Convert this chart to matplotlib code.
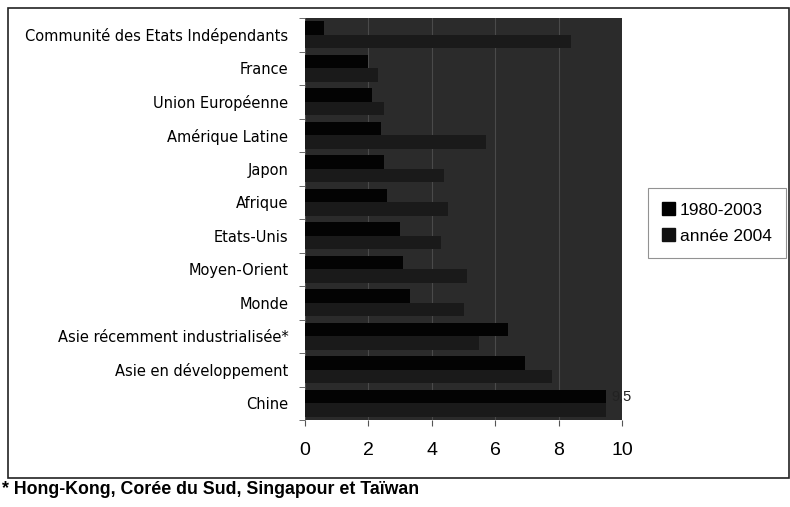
import matplotlib
matplotlib.use("Agg")
import matplotlib.pyplot as plt
import matplotlib.patches as mpatches
import numpy as np

plt.rcParams['font.family'] = ['Liberation Sans', 'DejaVu Sans']

categories = ["Communité des Etats Indépendants", "France", "Union Européenne",
              "Amérique Latine", "Japon", "Afrique", "Etats-Unis", "Moyen-Orient",
              "Monde", "Asie récemment industrialisée*", "Asie en développement", "Chine"]
avg_1980_2003 = [0.6, 2.0, 2.1, 2.4, 2.5, 2.6, 3.0, 3.1, 3.3, 6.4, 6.95, 9.5]
year_2004 = [8.4, 2.3, 2.5, 5.7, 4.4, 4.5, 4.3, 5.1, 5.0, 5.5, 7.8, 9.5]
series_names = ["1980-2003", "année 2004"]
xticks = [0, 2, 4, 6, 8, 10]

fig = plt.figure(figsize=(7.9, 5.07), dpi=100)
ax = fig.add_axes([305/790, 1-420/507, (622-305)/790, (420-18)/507])

n = len(categories)
y = np.arange(n)
h = 0.4
ax.set_facecolor('#2b2b2b')
ax.barh(y - h/2, avg_1980_2003, height=h, color='#030303', label=series_names[0], zorder=3)
ax.barh(y + h/2, year_2004, height=h, color='#1a1a1a', label=series_names[1], zorder=3)

ax.set_xlim(0, 10)
ax.set_ylim(n - 0.5, -0.5)
ax.set_yticks(y)
ax.set_yticklabels(categories, fontsize=10.5, family='DejaVu Sans')
ax.set_yticks(np.arange(n + 1) - 0.5, minor=True)
ax.tick_params(axis='y', which='major', length=0, pad=12)
ax.tick_params(axis='y', which='minor', length=4, color='#555555')
ax.set_xticks(xticks)
ax.set_xticklabels([str(t) for t in xticks], fontsize=14)
ax.tick_params(axis='x', length=4, pad=12, color='#555555')
ax.grid(axis='x', color='#4a4a4a', lw=0.8, zorder=1)
for s in ax.spines.values():
    s.set_visible(False)

# data label for Chine (mostly hidden in the dark area)
ax.text(10.3, y[-1] - h/2, "9,5", fontsize=10.5, va='center', ha='right',
        color='#222222', clip_on=False, zorder=4)

leg = fig.legend(handles=[mpatches.Patch(color='#000000'), mpatches.Patch(color='#111111')],
                 labels=series_names, loc='center left', bbox_to_anchor=(648/790, 1-223/507),
                 borderaxespad=0, fontsize=12.5, frameon=True, fancybox=False,
                 edgecolor='#777777', handlelength=0.75, handleheight=0.75,
                 handletextpad=0.3, borderpad=0.8, labelspacing=0.6)
leg.get_frame().set_linewidth(0.8)

# outer frame
fig.patches.append(mpatches.Rectangle((8/790, 1-478/507), (789-8)/790, (478-8)/507,
                                      transform=fig.transFigure, fill=False,
                                      edgecolor='#222222', lw=1.2))

fig.text(2/790, 1-490/507, "* Hong-Kong, Corée du Sud, Singapour et Taïwan",
         fontsize=12.8, fontweight='bold', va='center', ha='left')

fig.savefig("out.png", dpi=100)
